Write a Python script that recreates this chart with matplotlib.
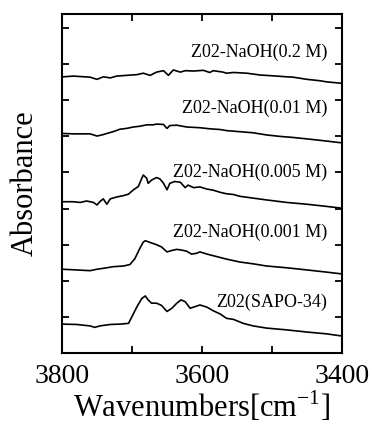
import matplotlib
matplotlib.use("Agg")
import matplotlib.pyplot as plt

plt.rcParams['font.family'] = ['Liberation Serif', 'DejaVu Serif']

# Series: wavenumber (cm-1) and absorbance (offset, arbitrary units)
wn_02 = [3800, 3798, 3784, 3760, 3750, 3741, 3731, 3722, 3708, 3693, 3684, 3674, 3665, 3655,
         3648, 3641, 3631, 3624, 3612, 3598, 3589, 3584, 3570, 3565, 3555, 3536, 3517, 3493,
         3479, 3470, 3450, 3431, 3422, 3400]
ab_02 = [7.65, 7.65, 7.67, 7.64, 7.58, 7.65, 7.62, 7.67, 7.69, 7.71, 7.75, 7.69, 7.78, 7.82,
         7.69, 7.84, 7.78, 7.82, 7.81, 7.83, 7.77, 7.82, 7.78, 7.75, 7.77, 7.75, 7.70, 7.67,
         7.65, 7.64, 7.58, 7.54, 7.51, 7.47]

wn_001 = [3800, 3798, 3784, 3760, 3750, 3743, 3736, 3727, 3717, 3708, 3698, 3689, 3679, 3670,
          3665, 3655, 3650, 3646, 3636, 3622, 3603, 3589, 3574, 3565, 3546, 3527, 3508, 3489,
          3470, 3450, 3431, 3400]
ab_001 = [6.08, 6.08, 6.07, 6.07, 6.01, 6.04, 6.08, 6.13, 6.20, 6.22, 6.26, 6.28, 6.32, 6.32,
          6.34, 6.33, 6.22, 6.30, 6.31, 6.26, 6.24, 6.21, 6.19, 6.16, 6.13, 6.10, 6.04, 6.00,
          5.97, 5.93, 5.89, 5.82]

wn_0005 = [3800, 3784, 3774, 3765, 3755, 3750, 3746, 3741, 3736, 3731, 3722, 3712, 3705, 3698,
           3691, 3686, 3684, 3679, 3677, 3672, 3665, 3660, 3655, 3650, 3646, 3639, 3631, 3624,
           3620, 3612, 3603, 3593, 3584, 3574, 3565, 3555, 3546, 3527, 3508, 3479, 3450, 3422,
           3400]
ab_0005 = [4.19, 4.19, 4.17, 4.21, 4.17, 4.10, 4.19, 4.27, 4.12, 4.27, 4.32, 4.36, 4.40, 4.52,
           4.61, 4.84, 4.93, 4.84, 4.70, 4.79, 4.86, 4.82, 4.70, 4.52, 4.70, 4.75, 4.73, 4.58,
           4.65, 4.58, 4.60, 4.54, 4.51, 4.45, 4.41, 4.39, 4.34, 4.29, 4.24, 4.17, 4.12, 4.06,
           4.01]

wn_0001 = [3800, 3779, 3760, 3750, 3736, 3727, 3712, 3703, 3696, 3689, 3684, 3681, 3674, 3665,
           3658, 3650, 3643, 3636, 3629, 3622, 3615, 3608, 3603, 3593, 3579, 3565, 3546, 3527,
           3508, 3479, 3450, 3422, 3400]
ab_0001 = [2.32, 2.30, 2.28, 2.32, 2.36, 2.39, 2.41, 2.45, 2.61, 2.89, 3.07, 3.11, 3.06, 3.00,
           2.94, 2.80, 2.84, 2.87, 2.85, 2.82, 2.74, 2.76, 2.80, 2.74, 2.67, 2.60, 2.52, 2.47,
           2.41, 2.36, 2.30, 2.24, 2.19]

wn_sapo = [3800, 3779, 3760, 3753, 3746, 3731, 3717, 3705, 3700, 3693, 3686, 3681, 3677, 3672,
           3665, 3658, 3650, 3643, 3636, 3630, 3624, 3617, 3612, 3603, 3593, 3584, 3574, 3565,
           3555, 3541, 3527, 3508, 3479, 3450, 3422, 3400]
ab_sapo = [0.80, 0.79, 0.75, 0.71, 0.75, 0.79, 0.80, 0.82, 1.01, 1.28, 1.51, 1.58, 1.47, 1.38,
           1.38, 1.32, 1.15, 1.24, 1.38, 1.47, 1.42, 1.24, 1.27, 1.33, 1.27, 1.17, 1.08, 0.96,
           0.93, 0.82, 0.75, 0.69, 0.64, 0.58, 0.53, 0.47]

series = [(wn_02, ab_02), (wn_001, ab_001), (wn_0005, ab_0005), (wn_0001, ab_0001), (wn_sapo, ab_sapo)]
labels = ["Z02-NaOH(0.2 M)", "Z02-NaOH(0.01 M)", "Z02-NaOH(0.005 M)", "Z02-NaOH(0.001 M)", "Z02(SAPO-34)"]
label_y = [8.34, 6.79, 5.01, 3.35, 1.39]
label_x = 3421

xticks_major = [3800, 3700, 3600, 3500, 3400]
xtick_labels = ["3800", "", "3600", "", "3400"]
yticks = [1, 2, 3, 4, 5, 6, 7, 8, 9]

fig = plt.figure(figsize=(3.72, 4.32), dpi=100)
ax = fig.add_axes([0.1667, 0.1829, 0.7527, 0.7847])

for (w, a) in series:
    ax.plot(w, a, color='black', lw=1.2)

for lab, ly in zip(labels, label_y):
    ax.text(label_x, ly, lab, ha='right', va='center', fontsize=13)

ax.set_xlim(3800, 3400)
ax.set_ylim(0, 9.39)
ax.set_xticks(xticks_major)
ax.set_xticklabels(xtick_labels)
ax.set_yticks(yticks)
ax.set_yticklabels([])
ax.tick_params(direction='in', top=True, right=True, length=5, width=1.3, labelsize=20, pad=8)
for s in ax.spines.values():
    s.set_linewidth(1.5)

ax.set_xlabel("Wavenumbers[cm$^{\\mathregular{-1}}$]", fontsize=22, labelpad=0)
ax.set_ylabel("Absorbance", fontsize=22, labelpad=8)

fig.savefig("out.png", dpi=100)
